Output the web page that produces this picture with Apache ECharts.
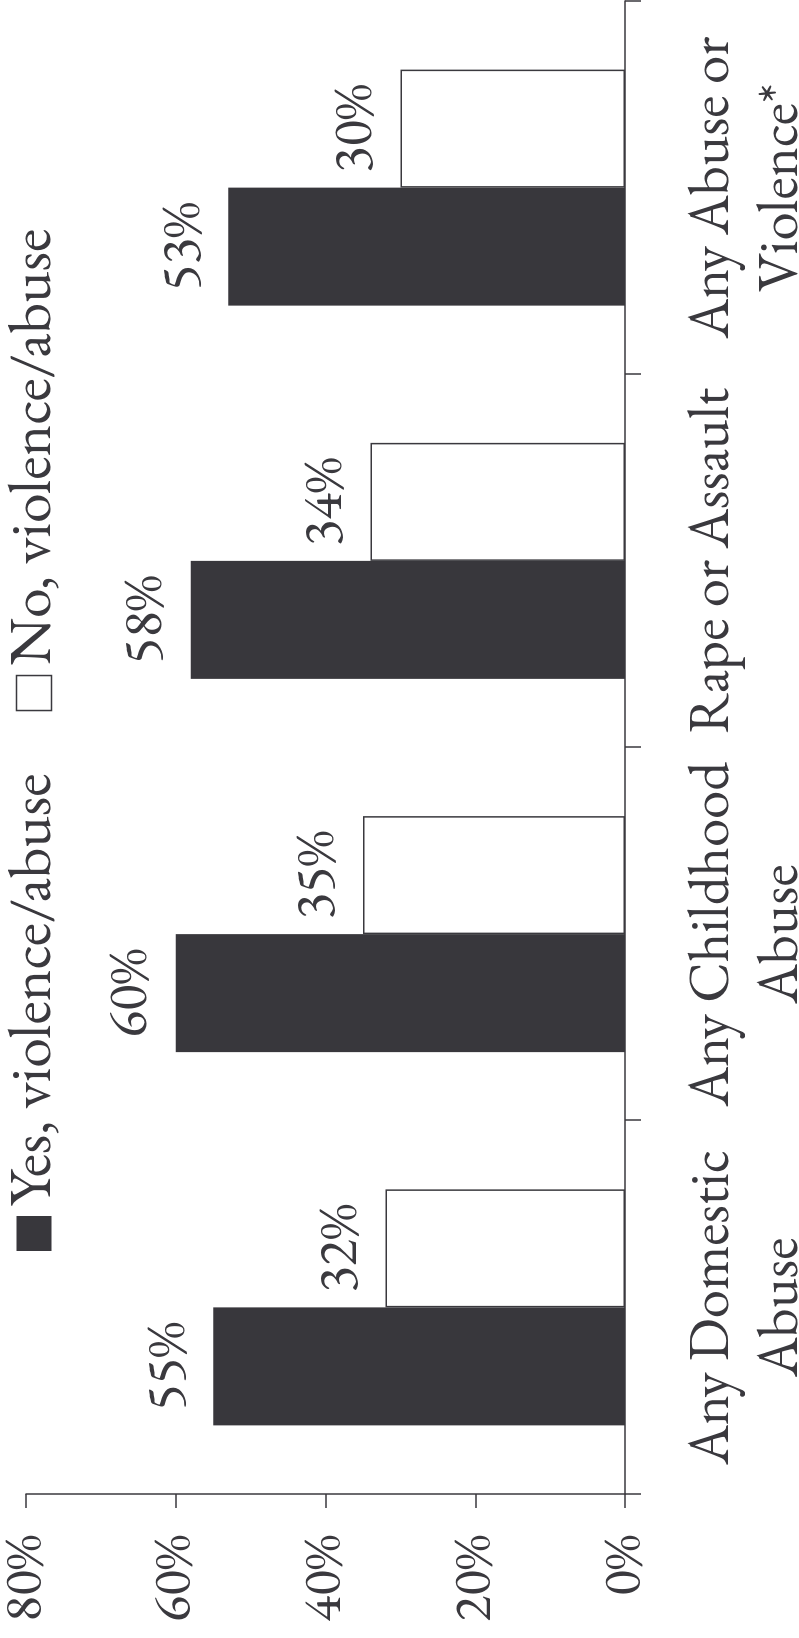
<!DOCTYPE html>
<html><head><meta charset="utf-8">
<script src="https://cdn.jsdelivr.net/npm/echarts@6/dist/echarts.min.js"></script>
<style>
html,body{margin:0;padding:0;width:799px;height:1638px;overflow:hidden;background:#fff;}
#chart{position:absolute;left:0;top:0;width:1638px;height:799px;transform-origin:0 0;transform:translateY(1638px) rotate(-90deg);}
</style></head><body><div id="chart"></div>
<script>
const categories = ['Any Domestic\nAbuse', 'Any Childhood\nAbuse', 'Rape or Assault', 'Any Abuse or\nViolence*'];
const yesValues = [55, 60, 58, 53];
const noValues = [32, 35, 34, 30];
const seriesNames = ['Yes, violence/abuse', 'No, violence/abuse'];
const valueMin = 0, valueMax = 80, valueStep = 20;

const ink = '#3a393e';
const dark = '#38373c';
const font = 'EB Garamond';

const chart = echarts.init(document.getElementById('chart'), null, {renderer: 'canvas'});
chart.setOption({
  animation: false,
  backgroundColor: '#fff',
  textStyle: {fontFamily: font, color: ink},
  legend: {
    left: 387, top: 4, padding: 0,
    itemWidth: 35, itemHeight: 35, itemGap: 62,
    icon: 'rect',
    textStyle: {fontFamily: font, fontSize: 60, lineHeight: 40, color: ink, padding: [0, 0, 0, 5]},
    data: [
      {name: seriesNames[0], itemStyle: {color: dark, borderColor: dark, borderWidth: 0}},
      {name: seriesNames[1], itemStyle: {color: '#fff', borderColor: ink, borderWidth: 1.5}}
    ]
  },
  grid: {left: 144, right: 1, top: 26, bottom: 174, containLabel: false, outerBoundsMode: 'none'},
  xAxis: {
    type: 'category',
    data: categories,
    axisLine: {show: true, lineStyle: {color: ink, width: 1.5}},
    axisTick: {show: true, length: 16, lineStyle: {color: ink, width: 1.5}},
    axisLabel: {fontFamily: font, fontSize: 57, color: ink, lineHeight: 69, margin: 53, interval: 0}
  },
  yAxis: {
    type: 'value',
    min: valueMin, max: valueMax, interval: valueStep,
    axisLine: {show: true, lineStyle: {color: ink, width: 1.5}},
    axisTick: {show: true, length: 14, lineStyle: {color: ink, width: 1.5}},
    splitLine: {show: false},
    axisLabel: {fontFamily: font, fontSize: 54, color: ink, margin: 41, formatter: '{value}%'}
  },
  series: [
    {
      name: seriesNames[0], type: 'bar', data: yesValues,
      barWidth: 118, barGap: '0%',
      itemStyle: {color: dark, borderColor: dark, borderWidth: 0},
      label: {show: true, position: 'top', distance: 17, fontFamily: font, fontSize: 55, color: ink, formatter: '{c}%'}
    },
    {
      name: seriesNames[1], type: 'bar', data: noValues,
      barWidth: 118, barGap: '0%',
      itemStyle: {color: '#fff', borderColor: ink, borderWidth: 1.5},
      label: {show: true, position: 'top', distance: 17, fontFamily: font, fontSize: 55, color: ink, formatter: '{c}%'}
    }
  ]
});
</script></body></html>
